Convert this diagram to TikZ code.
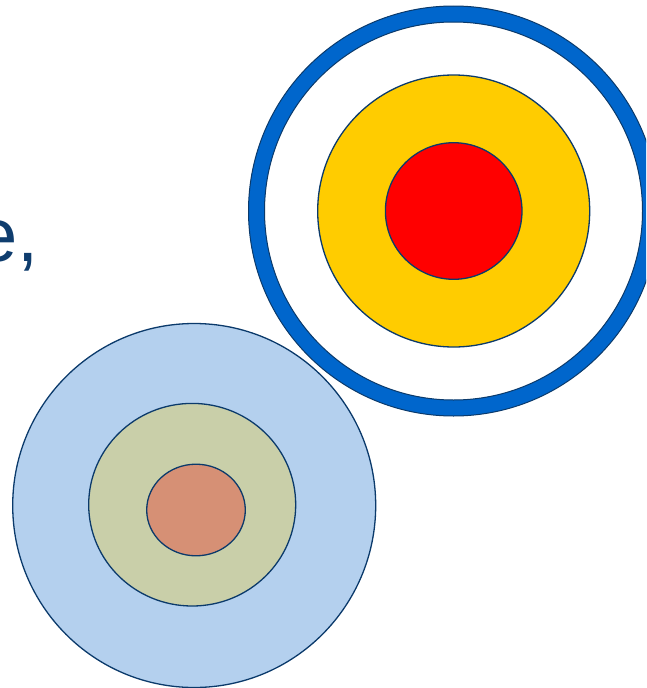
\documentclass[tikz,border=0pt]{standalone}
\usepackage{fontspec}
\setmainfont{Liberation Sans}
\definecolor{ringblue}{HTML}{0066CC}
\definecolor{navy}{HTML}{0B3A6B}
\definecolor{gold}{HTML}{FFCC00}
\definecolor{pureRed}{HTML}{FF0000}
\definecolor{paleblue}{HTML}{B4D0EE}
\definecolor{sage}{HTML}{C9CFA9}
\definecolor{salmon}{HTML}{D69075}
\definecolor{txtblue}{HTML}{0F3D6E}
\begin{document}
\begin{tikzpicture}[x=1pt,y=-1pt,
  disc/.style={draw=navy,line width=1.3pt}]
\useasboundingbox (0,0) rectangle (646,688);
\clip (0,0) rectangle (646,688);
% text fragment
\node[anchor=base east,inner sep=0pt,text=txtblue,font=\fontsize{76}{80}\selectfont] (txt) at (39,261) {e,};
% bottom-left target
\fill[paleblue,disc] (194.2,505.5) ellipse [x radius=181.5,y radius=182] coordinate (lb);
\fill[sage,disc] (192.2,504.7) ellipse [x radius=103.5,y radius=101.3];
\fill[salmon,disc] (196,510) ellipse [x radius=49.3,y radius=45.8];
% top-right target
\fill[white] (453.5,211) circle [radius=197];
\draw[ringblue,line width=16pt] (453.5,211) circle [radius=197];
\draw[navy,line width=1pt] (453.5,211) circle [radius=205];
\draw[navy,line width=1pt] (453.5,211) circle [radius=189];
\fill[gold,disc] (453.7,211) circle [radius=136];
\fill[pureRed,disc] (453.7,211) circle [radius=68.3];
\end{tikzpicture}
\end{document}
